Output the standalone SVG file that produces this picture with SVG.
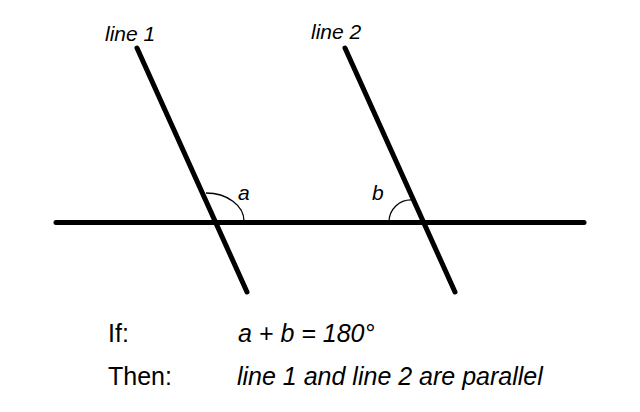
<svg xmlns="http://www.w3.org/2000/svg" width="640" height="412" viewBox="0 0 640 412">
<style>
.ln{stroke:#000;stroke-width:5;stroke-linecap:round;fill:none}
.arc{stroke:#000;stroke-width:1.3;fill:none}
.t{font-family:"Liberation Sans",Arial,sans-serif;fill:#000}
.i{font-style:italic}
</style>
<rect width="640" height="412" fill="#fff"/>
<g id="connectors">
<line id="transversal" class="ln" x1="56" y1="222.5" x2="584" y2="222.5"/>
<line id="line1" class="ln" x1="137" y1="48" x2="247" y2="292"/>
<line id="line2" class="ln" x1="345" y1="48" x2="455" y2="292"/>
<path id="arc-a" class="arc" d="M206,193 A38 28 0 0 1 244,221"/>
<path id="arc-b" class="arc" d="M389,222 A22 22 0 0 1 412,200"/>
</g>
<g id="label-line1"><text class="t i" x="105" y="41" font-size="21">line 1</text></g>
<g id="label-line2"><text class="t i" x="311" y="39" font-size="21">line 2</text></g>
<g id="label-a"><text class="t i" x="238" y="200" font-size="21">a</text></g>
<g id="label-b"><text class="t i" x="372" y="200" font-size="21">b</text></g>
<g id="statement">
<text class="t" x="108" y="342" font-size="25">If:</text>
<text class="t i" x="238" y="342" font-size="25">a + b = 180°</text>
<text class="t" x="108" y="385" font-size="25">Then:</text>
<text class="t i" x="237" y="385" font-size="25">line 1 and line 2 are parallel</text>
</g>
</svg>
